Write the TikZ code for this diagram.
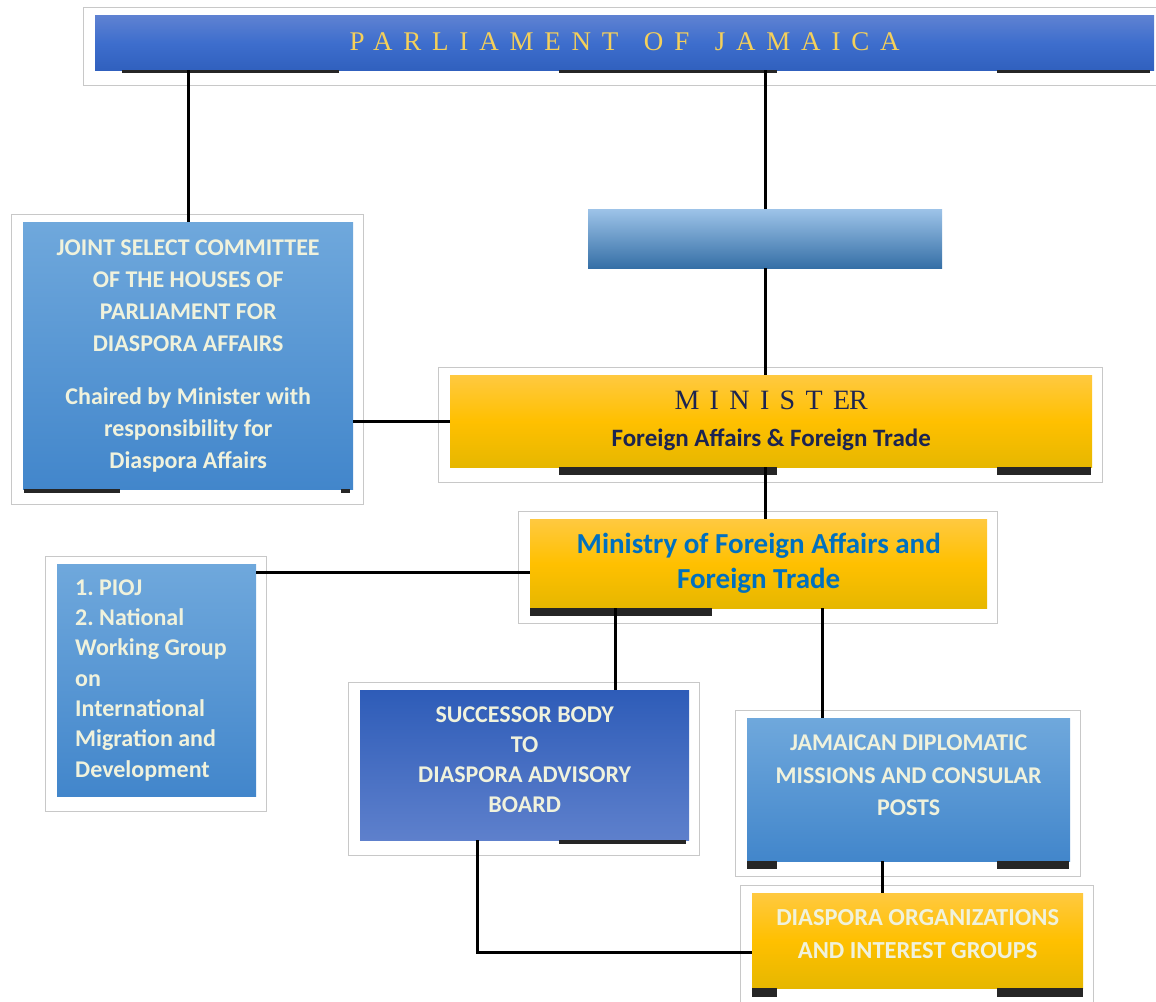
\documentclass[tikz,border=0pt]{standalone}
\usepackage{fontspec}
\setmainfont{Carlito}
\newfontfamily\titlefont[LetterSpace=40]{Liberation Serif}
\newfontfamily\ministerfont[LetterSpace=12]{Liberation Serif}
\usepackage{tikz}
\usetikzlibrary{calc}
\frenchspacing
\definecolor{parltop}{RGB}{95,130,210}
\definecolor{parlmid}{RGB}{62,110,205}
\definecolor{parlbot}{RGB}{48,96,190}
\definecolor{blanktop}{RGB}{157,195,232}
\definecolor{blankbot}{RGB}{53,111,166}
\definecolor{midtop}{RGB}{111,168,220}
\definecolor{midbot}{RGB}{66,134,203}
\definecolor{succtop}{RGB}{46,92,184}
\definecolor{succbot}{RGB}{94,128,204}
\definecolor{yeltop}{RGB}{255,201,64}
\definecolor{yelmid}{RGB}{255,192,0}
\definecolor{yelbot}{RGB}{230,183,0}
\definecolor{cream}{RGB}{240,242,220}
\definecolor{navy}{RGB}{28,36,80}
\definecolor{gold}{RGB}{245,208,90}
\definecolor{ministryblue}{RGB}{0,112,192}
\definecolor{framegray}{RGB}{200,200,200}

\begin{document}
\begin{tikzpicture}[x=1pt, y=-1pt,
  box/.style = {anchor=north west, inner sep=0pt, align=center, text=cream,
    font=\bfseries\fontsize{24}{32}\selectfont},
  midblue/.style = {box, top color=midtop, bottom color=midbot},
  darkblue/.style = {box, top color=succtop, bottom color=succbot},
  yellow box/.style = {box, top color=yeltop, bottom color=yelbot, middle color=yelmid},
  frame/.style = {draw=framegray, line width=1pt},
  link/.style = {draw=black, line width=3pt},
  shadowbit/.style = {fill=black!85}]
\useasboundingbox (0,0) rectangle (1156,1001);

\node[box, top color=parltop, bottom color=parlbot, middle color=parlmid, minimum width=1059, minimum height=55,
  text=gold, font=\titlefont\fontsize{27}{30}\selectfont] (1) at (95,15)
  {\raisebox{3pt}{PARLIAMENT\hspace{8pt} OF\hspace{8pt} JAMAICA}};
\node[box, top color=blanktop, bottom color=blankbot, minimum width=354, minimum height=59] (2) at (588,209) {};
\node[midblue, minimum width=330, minimum height=267] (3) at (23,222)
  {JOINT SELECT COMMITTEE\\OF THE HOUSES OF\\PARLIAMENT FOR\\DIASPORA AFFAIRS\\[21pt]Chaired by Minister with\\responsibility for\\Diaspora Affairs};
\node[yellow box, minimum width=642, minimum height=92, text=navy,
  font=\bfseries\fontsize{25}{37}\selectfont] (4) at (450,375)
  {{\ministerfont\mdseries\fontsize{28}{37}\selectfont M I N I S T E\kern-1pt R}\\Foreign Affairs \& Foreign Trade};
\node[yellow box, minimum width=457, minimum height=89, text=ministryblue,
  font=\bfseries\fontsize{29}{35}\selectfont] (5) at (530,519) {Ministry of Foreign Affairs and\\Foreign Trade};
\node[midblue, minimum width=199, minimum height=232, align=flush left, text width=163, inner xsep=18,
  font=\bfseries\fontsize{24}{30.3}\selectfont] (6) at (57,564)
  {1. PIOJ\\2. National\\Working Group\\on\\International\\Migration and\\Development};
\node[darkblue, minimum width=329, minimum height=150, font=\bfseries\fontsize{24}{30}\selectfont] (7) at (360,690)
  {SUCCESSOR BODY\\TO\\DIASPORA ADVISORY\\BOARD\\[-18pt]\mbox{}};
\node[midblue, minimum width=323, minimum height=143, font=\bfseries\fontsize{24}{32.5}\selectfont] (8) at (747,718)
  {JAMAICAN DIPLOMATIC\\MISSIONS AND CONSULAR\\POSTS\\[-4pt]\mbox{}};
\node[yellow box, minimum width=331, minimum height=95, font=\bfseries\fontsize{24.5}{33}\selectfont] (9) at (752,893)
  {DIASPORA ORGANIZATIONS\\AND INTEREST GROUPS\\[-20pt]\mbox{}};

% outer frames
\foreach \n in {1,3,4,5,6,7,8,9}
  \draw[frame] ($(\n.north west)+(-12,-8)$) rectangle ($(\n.south east)+(10,15)$);

% shadow bits under the boxes
\foreach \xa/\ya/\xb/\yb in {122/70/339/73, 559/70/777/73, 997/70/1150/73,
    24/489/120/493, 341/489/350/493, 559/467/777/475, 997/467/1091/475,
    530/608/712/616, 559/840/686/844, 747/861/777/869, 997/861/1069/869,
    752/988/777/997, 997/988/1083/997}
  \fill[shadowbit] (\xa,\ya) rectangle (\xb,\yb);

\coordinate (a) at ($(6.north east)+(0,8)$);
\coordinate (b) at ($(5.south west)+(85,0)$);
\coordinate (c) at ($(5.south west)+(292,0)$);
\coordinate (d) at ($(8.south west)+(135,0)$);
\coordinate (e) at ($(7.south west)+(117,0)$);

\draw[link] (3.north) -- (3.north |- 1.south);
\draw[link] (2.north) -- (2.north |- 1.south);
\draw[link] (2.south) -- (2.south |- 4.north);
\draw[link] (4.west) -- (4.west -| 3.east);
\draw[link] (2.south |- 4.south) -- (2.south |- 5.north);
\draw[link] (a) -- (a -| 5.west);
\draw[link] (b) -- (b |- 7.north);
\draw[link] (c) -- (c |- 8.north);
\draw[link] (d) -- (d |- 9.north);
\draw[link] (e) |- ($(9.west)+(0,12)$);

\end{tikzpicture}
\end{document}
